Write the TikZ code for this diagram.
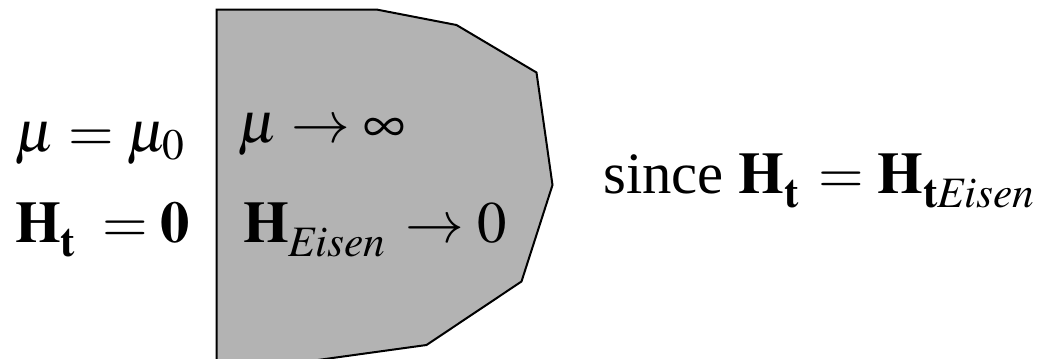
\documentclass[tikz,border=0pt]{standalone}
\usepackage{amsmath}
\usepackage{mathptmx}
\usepackage[no-math]{fontspec}
\setmainfont{Liberation Serif}
\usepackage{tikz}
\definecolor{ironfill}{HTML}{B3B3B3}
\definecolor{ironink}{HTML}{000000}
\newcommand{\dropsub}[1]{\raisebox{-0.1em}{$\scriptstyle #1$}}

\begin{document}
\begin{tikzpicture}[x=0.75pt, y=-0.75pt,
    eq/.style={inner sep=0pt, anchor=base west, text=ironink, font=\fontsize{44}{52}\selectfont}]
  \useasboundingbox (0,0) rectangle (1040,358);
  % iron block, cut off at the lower edge
  \begin{scope}
    \clip (0,0) rectangle (1040,358);
    \draw[fill=ironfill, draw=ironink, line width=1.5pt, line join=miter]
      (216.5,9.5) -- (376.5,9.5) -- (456.5,25) -- (536.5,72.5) -- (552.5,185)
      -- (521.5,281.5) -- (426.5,345) -- (216.5,374) -- cycle;
  \end{scope}
  % air side
  \node[eq] (airmu) at (15,151) {$\mu = \mu_0$};
  \node[eq] (airH) at (15,242) {$\mathbf{H}_{\dropsub{\mathbf{t}}}\; = \mathbf{0}$};
  % iron side
  \node[eq] (ironmu) at (238,142) {$\mu \rightarrow \infty$};
  \node[eq] (ironH) at (243,242) {$\mathbf{H}_{\dropsub{\mathit{Eisen}}}\, \rightarrow 0$};
  \node[eq] (since) at (603,193) {since $\mathbf{H}_{\dropsub{\mathbf{t}}}\, = \mathbf{H}_{\dropsub{\mathbf{t}\mathit{Eisen}}}$};
\end{tikzpicture}
\end{document}
